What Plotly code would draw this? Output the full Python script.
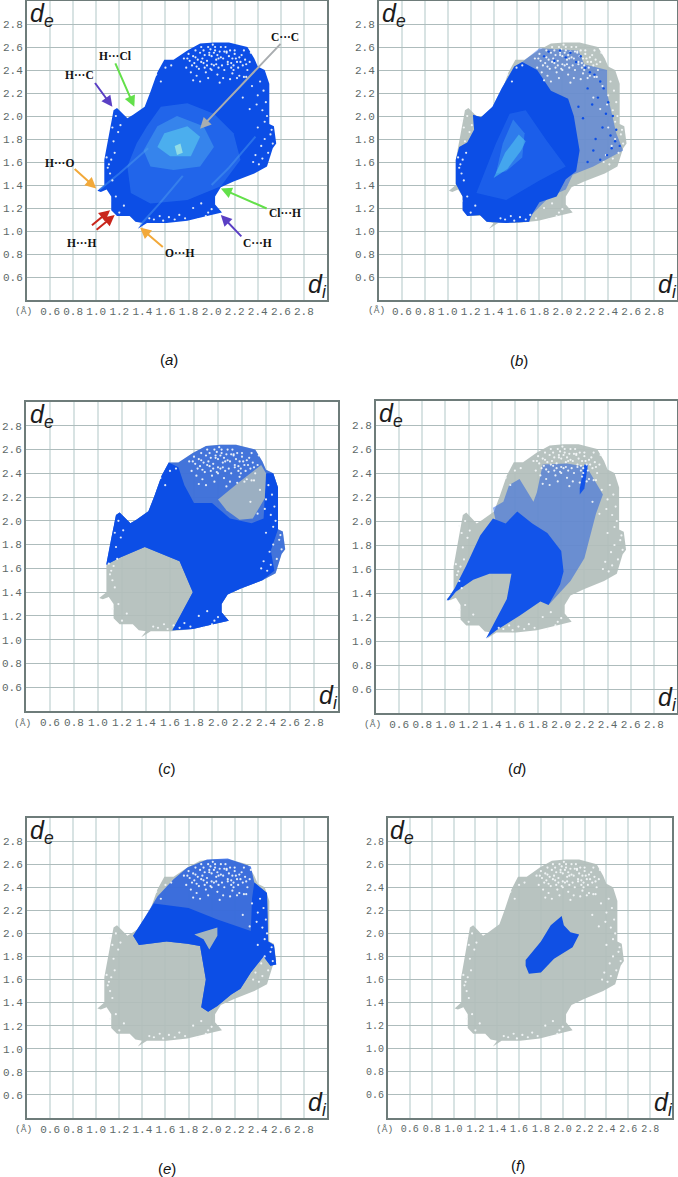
"""Fingerprint plots (a)-(f), d_e against d_i."""

import plotly.graph_objects as go

WIDTH, HEIGHT = 678, 1177

BLUE = "#0c4ee6"
GREY = "rgba(178,190,187,0.92)"

TICKS = [0.6, 0.8, 1.0, 1.2, 1.4, 1.6, 1.8, 2.0, 2.2, 2.4, 2.6, 2.8]
TICK_TEXT = ["0.6", "0.8", "1.0", "1.2", "1.4", "1.6", "1.8", "2.0", "2.2", "2.4", "2.6", "2.8"]

# left, top, right, bottom of each frame in the page
BOXES = {
    "a": (27, 1, 327, 300),
    "b": (379, 1, 677, 300),
    "c": (26, 402, 338, 711),
    "d": (376, 401, 677, 713),
    "e": (27, 818, 327, 1118),
    "f": (388, 818, 672, 1118),
}
PANEL_LABELS = {"a": (169, 359), "b": (519, 360), "c": (167, 768), "d": (517, 768), "e": (167, 1168), "f": (518, 1165)}
UNIT_LABELS = {"a": (23, 311), "b": (376, 310), "c": (22, 723), "d": (372, 724), "e": (23, 1129), "f": (384, 1129)}

# whole fingerprint outline
OUT_X = [1.01, 1.07, 1.07, 1.11, 1.15, 1.18, 1.22, 1.27, 1.32, 1.42, 1.47, 1.53, 1.59, 1.67, 1.79, 1.90, 2.02, 2.15,
         2.31, 2.37, 2.40, 2.46, 2.50, 2.50, 2.54, 2.56, 2.53, 2.50, 2.48, 2.37, 2.19, 2.08, 2.03, 2.03, 2.09, 1.96,
         1.79, 1.61, 1.44, 1.36, 1.40, 1.34, 1.29, 1.18, 1.13, 1.13, 1.09, 1.04]
OUT_Y = [1.35, 1.40, 1.62, 1.85, 2.05, 2.07, 2.03, 1.98, 2.01, 2.08, 2.21, 2.38, 2.49, 2.49, 2.57, 2.63, 2.64, 2.64,
         2.60, 2.50, 2.43, 2.40, 2.28, 1.93, 1.91, 1.76, 1.72, 1.62, 1.56, 1.50, 1.43, 1.38, 1.30, 1.23, 1.16, 1.13,
         1.09, 1.07, 1.07, 1.02, 1.07, 1.08, 1.13, 1.13, 1.18, 1.30, 1.36, 1.34]

# white gaps between the points
GAP_X = [1.76, 1.80, 1.83, 1.86, 1.88, 1.91, 1.94, 1.96, 1.99, 2.01, 2.04, 2.07, 2.09, 2.12, 2.15, 2.17, 2.20, 2.23,
         2.26, 2.29, 1.82, 1.85, 1.89, 1.92, 1.95, 1.98, 2.02, 2.05, 2.08, 2.11, 2.14, 2.18, 2.21, 2.24, 2.27, 2.31,
         1.78, 1.87, 1.93, 1.97, 2.03, 2.06, 2.10, 2.13, 2.19, 2.25, 2.33, 1.90, 2.00, 2.16, 2.22, 2.28, 1.84, 2.07,
         1.81, 1.84, 1.87, 1.90, 1.93, 1.96, 1.98, 2.00, 2.03, 2.05, 2.08, 2.10, 2.13, 2.16, 2.18, 2.20, 2.22, 2.24,
         1.97, 2.00, 2.02, 1.99, 2.04, 2.06, 1.94, 2.11, 2.14, 2.17, 2.19, 1.86, 1.91, 1.79, 2.28, 2.30, 2.34,
         1.12, 1.14, 1.17, 1.19, 1.15, 1.21, 1.13, 1.16, 1.10, 1.12, 1.09, 1.11, 1.14, 1.17, 1.12,
         2.42, 2.45, 2.47, 2.44, 2.40, 2.48, 2.43, 2.46, 2.38, 2.41, 2.51, 2.53, 2.49, 2.52, 2.44, 2.35, 2.39, 2.30,
         2.27, 2.33, 2.36, 2.46, 2.40,
         1.50, 1.55, 1.58, 1.63, 1.68, 1.72, 1.77, 1.84, 1.91, 1.97, 2.00, 1.95, 1.88, 1.46, 1.20, 1.24,
         1.60, 1.52, 1.65, 1.56]
GAP_Y = [2.50, 2.54, 2.44, 2.57, 2.49, 2.60, 2.53, 2.44, 2.58, 2.62, 2.49, 2.56, 2.44, 2.60, 2.52, 2.46, 2.57, 2.42,
         2.53, 2.49, 2.38, 2.46, 2.41, 2.50, 2.38, 2.53, 2.44, 2.36, 2.51, 2.40, 2.47, 2.37, 2.50, 2.35, 2.44, 2.40,
         2.42, 2.35, 2.46, 2.33, 2.57, 2.42, 2.33, 2.55, 2.44, 2.47, 2.47, 2.30, 2.40, 2.32, 2.33, 2.34, 2.31, 2.29,
         2.48, 2.52, 2.43, 2.55, 2.57, 2.48, 2.55, 2.52, 2.60, 2.53, 2.60, 2.50, 2.56, 2.57, 2.50, 2.54, 2.47, 2.51,
         2.60, 2.45, 2.55, 2.41, 2.45, 2.50, 2.42, 2.56, 2.45, 2.42, 2.40, 2.51, 2.47, 2.50, 2.57, 2.45, 2.55,
         1.96, 1.90, 2.00, 1.86, 1.78, 1.92, 1.62, 1.68, 1.55, 1.50, 1.64, 1.58, 1.44, 1.30, 1.26,
         2.30, 2.22, 2.12, 2.05, 2.18, 2.00, 1.74, 1.80, 1.66, 1.58, 1.84, 1.76, 1.68, 1.88, 1.63, 2.26, 2.10, 2.34,
         2.16, 2.06, 1.60, 1.95, 1.90,
         1.10, 1.13, 1.09, 1.12, 1.10, 1.14, 1.11, 1.20, 1.24, 1.16, 1.19, 1.13, 1.10, 1.11, 1.16, 1.22,
         2.42, 2.36, 2.44, 2.30]

# loose blue points of (b), upper right
B_DOT_X = [1.84, 1.88, 1.93, 1.98, 2.03, 2.07, 2.12, 2.16, 2.20, 2.24, 2.28, 2.33, 2.36, 2.40, 2.44, 2.47, 2.50, 2.42,
           2.38, 2.31, 2.26, 2.22, 2.18, 2.14, 2.35, 2.29, 2.43, 2.46, 2.39, 2.33, 2.27, 2.22]
B_DOT_Y = [2.52, 2.56, 2.48, 2.57, 2.51, 2.55, 2.47, 2.52, 2.42, 2.38, 2.36, 2.30, 2.24, 2.12, 2.00, 1.88, 1.74, 1.83,
           2.02, 2.16, 2.10, 2.24, 1.98, 2.08, 1.90, 1.80, 1.72, 1.78, 1.66, 1.62, 1.70, 1.60]

# (a) lighter middle of the plot
A_MID_X = [1.27, 1.35, 1.44, 1.56, 1.79, 2.02, 2.19, 2.25, 2.08, 1.79, 1.47, 1.30]
A_MID_Y = [1.56, 1.76, 1.91, 2.08, 2.11, 2.02, 1.85, 1.62, 1.39, 1.27, 1.24, 1.33]
A_INNER_X = [1.41, 1.53, 1.70, 1.93, 2.02, 1.90, 1.67, 1.47]
A_INNER_Y = [1.70, 1.91, 2.00, 1.91, 1.73, 1.56, 1.53, 1.56]
A_CORE_X = [1.59, 1.79, 1.90, 1.82, 1.64, 1.53]
A_CORE_Y = [1.85, 1.91, 1.82, 1.65, 1.65, 1.73]
A_HOT_X = [1.68, 1.73, 1.75, 1.70]
A_HOT_Y = [1.74, 1.76, 1.68, 1.66]
A_STREAKS = [([1.03, 1.20, 1.45], [1.36, 1.50, 1.72]), ([1.38, 1.55, 1.75], [1.05, 1.24, 1.48]),
             ([2.00, 2.15, 2.38], [1.40, 1.55, 1.82])]

# (b)
B_ALL_X = [1.07, 1.10, 1.17, 1.23, 1.22, 1.29, 1.39, 1.47, 1.58, 1.65, 1.80, 1.94, 2.14, 2.19, 2.39, 2.39, 2.47, 2.53,
           2.44, 2.27, 2.09, 2.03, 1.89, 1.74, 1.71, 1.51, 1.34, 1.28, 1.17, 1.13, 1.13, 1.07]
B_ALL_Y = [1.62, 1.73, 1.77, 1.88, 2.01, 1.99, 2.08, 2.24, 2.43, 2.47, 2.59, 2.58, 2.57, 2.45, 2.40, 2.20, 1.85, 1.70,
           1.65, 1.56, 1.49, 1.36, 1.30, 1.15, 1.08, 1.07, 1.08, 1.14, 1.13, 1.18, 1.30, 1.41]
B_DENSE_X = [1.07, 1.10, 1.17, 1.23, 1.22, 1.29, 1.39, 1.47, 1.58, 1.65, 1.78, 1.90, 2.05, 2.10, 2.15, 2.12, 2.03, 1.95,
             1.80, 1.72, 1.71, 1.51, 1.34, 1.28, 1.17, 1.13, 1.13, 1.07]
B_DENSE_Y = [1.62, 1.73, 1.77, 1.88, 2.01, 1.99, 2.08, 2.24, 2.43, 2.47, 2.40, 2.22, 2.15, 2.00, 1.70, 1.52, 1.45, 1.30,
             1.25, 1.12, 1.08, 1.07, 1.08, 1.14, 1.13, 1.18, 1.30, 1.41]
B_MID_X = [1.25, 1.42, 1.54, 1.68, 1.86, 2.03, 1.80, 1.51]
B_MID_Y = [1.33, 1.76, 2.02, 2.05, 1.79, 1.56, 1.44, 1.27]
B_INNER_X = [1.42, 1.48, 1.57, 1.67, 1.65, 1.51]
B_INNER_Y = [1.50, 1.76, 1.97, 1.85, 1.64, 1.52]
B_CORE_X = [1.40, 1.50, 1.62, 1.68, 1.64, 1.52]
B_CORE_Y = [1.46, 1.68, 1.84, 1.78, 1.70, 1.54]

# (c)
C_ALL_X = [1.07, 1.07, 1.11, 1.15, 1.18, 1.22, 1.27, 1.32, 1.42, 1.47, 1.53, 1.59, 1.67, 1.79, 1.90, 2.02, 2.15, 2.31,
           2.37, 2.40, 2.46, 2.50, 2.50, 2.54, 2.56, 2.53, 2.50, 2.48, 2.37, 2.19, 2.08, 2.03, 2.03, 2.09, 1.96, 1.79,
           1.62, 1.79, 1.68, 1.39, 1.18]
C_ALL_Y = [1.63, 1.64, 1.85, 2.05, 2.07, 2.03, 1.98, 2.01, 2.08, 2.21, 2.38, 2.49, 2.49, 2.57, 2.63, 2.64, 2.64, 2.60,
           2.50, 2.43, 2.40, 2.28, 1.93, 1.91, 1.76, 1.72, 1.62, 1.56, 1.50, 1.43, 1.38, 1.30, 1.23, 1.16, 1.13, 1.09,
           1.08, 1.40, 1.66, 1.78, 1.69]
C_DENSE_X = [1.07, 1.07, 1.11, 1.15, 1.18, 1.22, 1.27, 1.32, 1.42, 1.47, 1.53, 1.59, 1.67, 1.72, 1.80, 1.95, 2.10, 2.28,
             2.38, 2.40, 2.46, 2.50, 2.50, 2.44, 2.47, 2.37, 2.19, 2.08, 2.03, 2.03, 2.09, 1.96, 1.79, 1.62, 1.79, 1.68,
             1.39, 1.18]
C_DENSE_Y = [1.63, 1.64, 1.85, 2.05, 2.07, 2.03, 1.98, 2.01, 2.08, 2.21, 2.38, 2.49, 2.45, 2.30, 2.15, 2.15, 2.02, 1.98,
             2.02, 2.40, 2.40, 2.28, 1.93, 1.75, 1.58, 1.50, 1.43, 1.38, 1.30, 1.23, 1.16, 1.13, 1.09, 1.08, 1.40, 1.66,
             1.78, 1.69]
C_HOLE_X = [2.00, 2.18, 2.36, 2.40, 2.39, 2.29, 2.18, 2.07]
C_HOLE_Y = [2.18, 2.33, 2.47, 2.40, 2.19, 2.02, 2.01, 2.09]

# (d)
D_ALL_X = [1.41, 1.50, 1.55, 1.64, 1.71, 1.76, 1.79, 1.84, 2.05, 2.22, 2.36, 2.30, 2.20, 2.08, 1.89, 1.75, 1.52]
D_ALL_Y = [2.11, 2.16, 2.30, 2.35, 2.24, 2.16, 2.24, 2.47, 2.48, 2.45, 2.22, 2.06, 1.69, 1.50, 1.30, 1.60, 1.60]
D_DENSE_X = [1.01, 1.08, 1.18, 1.30, 1.41, 1.52, 1.62, 1.75, 1.88, 2.00, 2.02, 1.99, 1.89, 1.82, 1.64, 1.44, 1.35, 1.41,
             1.53, 1.57, 1.38, 1.24, 1.09, 1.03]
D_DENSE_Y = [1.34, 1.44, 1.63, 1.88, 2.02, 1.98, 2.08, 1.98, 1.90, 1.75, 1.58, 1.47, 1.30, 1.33, 1.21, 1.09, 1.02, 1.13,
             1.35, 1.56, 1.56, 1.51, 1.41, 1.34]
D_SPIKE_X = [2.20, 2.23, 2.20, 2.16, 2.16]
D_SPIKE_Y = [2.47, 2.47, 2.27, 2.22, 2.27]

# (e)
E_ALL_X = [1.32, 1.41, 1.53, 1.67, 1.79, 1.96, 2.14, 2.34, 2.37, 2.48, 2.49, 2.54, 2.56, 2.51, 2.45, 2.34, 2.25, 2.17,
           2.05, 1.97, 1.91, 1.95, 1.90, 1.79, 1.61, 1.37]
E_ALL_Y = [1.98, 2.12, 2.32, 2.47, 2.57, 2.64, 2.65, 2.58, 2.44, 2.35, 1.93, 1.90, 1.73, 1.72, 1.80, 1.66, 1.52, 1.47,
           1.37, 1.32, 1.36, 1.60, 1.89, 1.91, 1.93, 1.90]
E_DENSE_X = [1.32, 1.41, 1.50, 1.80, 2.05, 2.34, 2.35, 2.37, 2.48, 2.49, 2.54, 2.56, 2.51, 2.45, 2.34, 2.25, 2.17, 2.05,
             1.97, 1.91, 1.95, 1.90, 1.79, 1.61, 1.37]
E_DENSE_Y = [1.98, 2.12, 2.26, 2.22, 2.12, 2.02, 2.30, 2.44, 2.35, 1.93, 1.90, 1.73, 1.72, 1.80, 1.66, 1.52, 1.47, 1.37,
             1.32, 1.36, 1.60, 1.89, 1.91, 1.93, 1.90]
E_HOLE_X = [1.85, 2.05, 2.05, 1.98, 1.93]
E_HOLE_Y = [1.99, 2.05, 1.98, 1.86, 1.95]

# (f)
F_ALL_X = [1.66, 1.80, 1.89, 1.99, 2.01, 2.07, 2.15, 2.09, 1.92, 1.80, 1.69, 1.66]
F_ALL_Y = [1.77, 1.93, 2.07, 2.15, 2.07, 2.01, 1.99, 1.88, 1.78, 1.66, 1.65, 1.72]

# (a) arrows: label, label x, label y, tail x, tail y, head x, head y, colour
CALLOUTS = [
    ("C\u00b7\u00b7\u00b7C", 2.64, 2.69, 2.61, 2.64, 1.90, 1.89, "#a9adb0"),
    ("H\u00b7\u00b7\u00b7Cl", 1.165, 2.52, 1.16, 2.47, 1.33, 2.08, "#63e04a"),
    ("H\u00b7\u00b7\u00b7C", 0.855, 2.36, 0.98, 2.30, 1.14, 2.08, "#5a3fc4"),
    ("H\u00b7\u00b7\u00b7O", 0.68, 1.59, 0.80, 1.55, 1.00, 1.37, "#f2a93a"),
    ("H\u00b7\u00b7\u00b7H", 0.87, 0.90, 0.95, 1.04, 1.12, 1.18, "#c9261c"),
    ("", 0.87, 0.90, 0.99, 1.00, 1.16, 1.14, "#c9261c"),
    ("O\u00b7\u00b7\u00b7H", 1.72, 0.81, 1.59, 0.85, 1.38, 1.03, "#f2a93a"),
    ("C\u00b7\u00b7\u00b7H", 2.40, 0.90, 2.27, 0.94, 2.08, 1.14, "#5a3fc4"),
    ("Cl\u00b7\u00b7\u00b7H", 2.64, 1.16, 2.49, 1.19, 2.08, 1.37, "#63e04a"),
]

OUTLINE = (OUT_X, OUT_Y, GREY)
LAYERS = {
    "a": [(OUT_X, OUT_Y, BLUE), (A_MID_X, A_MID_Y, "rgba(60,130,240,0.45)"), (A_INNER_X, A_INNER_Y, "rgba(80,170,240,0.45)"),
          (A_CORE_X, A_CORE_Y, "rgba(95,215,240,0.5)"), (A_HOT_X, A_HOT_Y, "rgba(170,235,225,0.75)")],
    "b": [OUTLINE, (B_ALL_X, B_ALL_Y, "rgba(12,78,230,0.42)"), (B_DENSE_X, B_DENSE_Y, BLUE), (B_MID_X, B_MID_Y, "rgba(50,120,240,0.4)"),
          (B_INNER_X, B_INNER_Y, "rgba(70,160,240,0.45)"), (B_CORE_X, B_CORE_Y, "rgba(90,210,240,0.5)")],
    "c": [OUTLINE, (C_ALL_X, C_ALL_Y, "rgba(12,78,230,0.68)"), (C_DENSE_X, C_DENSE_Y, BLUE), (C_HOLE_X, C_HOLE_Y, "rgba(178,190,187,0.8)")],
    "d": [OUTLINE, (D_ALL_X, D_ALL_Y, "rgba(12,78,230,0.45)"), (D_DENSE_X, D_DENSE_Y, "#1254ea"), (D_SPIKE_X, D_SPIKE_Y, "#1254ea")],
    "e": [OUTLINE, (E_ALL_X, E_ALL_Y, "rgba(12,78,230,0.72)"), (E_DENSE_X, E_DENSE_Y, BLUE), (E_HOLE_X, E_HOLE_Y, GREY)],
    "f": [OUTLINE, (F_ALL_X, F_ALL_Y, "#1050e4")],
}


def page_x(px):
    return px / WIDTH


def page_y(py):
    return 1 - py / HEIGHT


fig = go.Figure()
notes = []

for i, (name, box) in enumerate(BOXES.items(), start=1):
    left, top, right, bottom = box
    suffix = "" if i == 1 else str(i)
    axis = dict(
        range=[0.4, 3.0],
        tickmode="array",
        tickvals=TICKS,
        ticktext=TICK_TEXT,
        tickangle=0,
        ticks="",
        showline=True,
        mirror=True,
        linecolor="#6e7c7a",
        linewidth=2,
        zeroline=False,
        # (f) has the narrowest frame
        tickfont=dict(family="Liberation Mono", size=10 if name == "f" else 11, color="#5d6968"),
    )
    fig.update_layout(**{
        f"xaxis{suffix}": dict(axis, domain=[page_x(left), page_x(right)], anchor=f"y{suffix}", gridcolor="#d8e3e3", gridwidth=1.5),
        f"yaxis{suffix}": dict(axis, domain=[page_y(bottom), page_y(top)], anchor=f"x{suffix}", gridcolor="#aebcbc", gridwidth=1.3),
    })
    xref, yref = f"x{suffix}", f"y{suffix}"

    for xs, ys, colour in LAYERS[name]:
        fig.add_trace(go.Scatter(
            x=xs, y=ys, xaxis=xref, yaxis=yref, mode="lines", fill="toself", fillcolor=colour,
            line=dict(width=0), hoverinfo="skip", showlegend=False,
        ))
    if name == "a":
        for xs, ys in A_STREAKS:
            fig.add_trace(go.Scatter(
                x=xs, y=ys, xaxis=xref, yaxis=yref, mode="lines",
                line=dict(color="rgba(80,160,240,0.45)", width=2), hoverinfo="skip", showlegend=False,
            ))
    fig.add_trace(go.Scatter(
        x=GAP_X, y=GAP_Y, xaxis=xref, yaxis=yref, mode="markers",
        marker=dict(color="rgba(245,248,250,0.9)", size=2.2, line=dict(width=0)),
        hoverinfo="skip", showlegend=False,
    ))
    if name == "b":
        fig.add_trace(go.Scatter(
            x=B_DOT_X, y=B_DOT_Y, xaxis=xref, yaxis=yref, mode="markers",
            marker=dict(color=BLUE, size=2.4, line=dict(width=0)),
            hoverinfo="skip", showlegend=False,
        ))

    notes.append(dict(x=0.53, y=2.88, xref=xref, yref=yref, text="<i>d<sub>e</sub></i>", showarrow=False,
                      font=dict(family="Liberation Sans", size=25, color="#1c1c1c")))
    notes.append(dict(x=2.92, y=0.52, xref=xref, yref=yref, text="<i>d<sub>i</sub></i>", showarrow=False,
                      font=dict(family="Liberation Sans", size=25, color="#1c1c1c")))

    lx, ly = PANEL_LABELS[name]
    notes.append(dict(x=page_x(lx), y=page_y(ly), xref="paper", yref="paper", xanchor="center", yanchor="middle",
                      text=f"(<i>{name}</i>)", showarrow=False,
                      font=dict(family="Liberation Sans", size=15, color="#111111")))
    ux, uy = UNIT_LABELS[name]
    notes.append(dict(x=page_x(ux), y=page_y(uy), xref="paper", yref="paper", xanchor="center", yanchor="middle",
                      text="(\u00c5)", showarrow=False,
                      font=dict(family="Liberation Mono", size=9.5, color="#5d6968")))

for text, lab_x, lab_y, tail_x, tail_y, head_x, head_y, colour in CALLOUTS:
    notes.append(dict(x=head_x, y=head_y, ax=tail_x, ay=tail_y, xref="x", yref="y", axref="x", ayref="y", text="",
                      showarrow=True, arrowhead=2, arrowsize=1.1, arrowwidth=2, arrowcolor=colour, standoff=0))
    if text:
        notes.append(dict(x=lab_x, y=lab_y, xref="x", yref="y", text=f"<b>{text}</b>", showarrow=False,
                          font=dict(family="Liberation Serif", size=11.5, color="#111111")))

fig.update_layout(
    width=WIDTH,
    height=HEIGHT,
    autosize=False,
    margin=dict(l=0, r=0, t=0, b=0),
    paper_bgcolor="white",
    plot_bgcolor="white",
    annotations=notes,
)
fig.write_html("out.html", config={"displayModeBar": False}, post_script="document.body.style.margin='0';document.body.style.overflow='hidden';")
